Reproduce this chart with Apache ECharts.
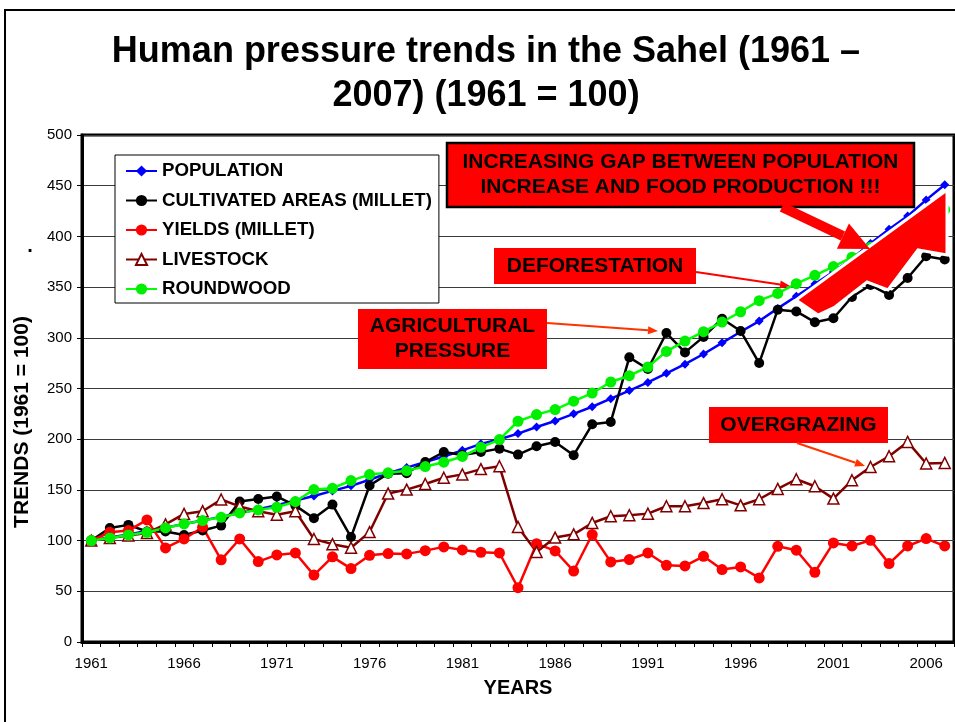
<!DOCTYPE html>
<html>
<head>
<meta charset="utf-8">
<script src="https://cdn.jsdelivr.net/npm/echarts@6/dist/echarts.min.js"></script>
<style>
  html, body { margin: 0; padding: 0; background: #fff; }
  #chart { width: 955px; height: 722px; }
</style>
</head>
<body>
<div id="chart"></div>
<script>
// Index values, 1961 = 100
const years = [];
for (let y = 1961; y <= 2007; y++) years.push(String(y));

const population = [100, 103, 106, 109.5, 112.8, 116.3, 119.8, 123.4, 127.2, 131, 135, 139.5, 144, 149, 154, 160, 166.5, 172, 177.5, 183, 189, 195.4, 200, 205.5, 212, 218, 225, 232, 240, 248, 256, 265, 274, 284, 295, 306, 316.5, 329, 341, 353, 365, 378, 393, 407, 420, 436, 451];
const cultivated = [100, 112.5, 115.5, 109, 109, 105.6, 110, 114.8, 138.5, 141, 143.5, 134.5, 122, 135.5, 103.5, 154.3, 166, 166.5, 177.5, 187.3, 184.5, 187.4, 190.7, 184.8, 193, 197.3, 184.2, 214.7, 217, 280.7, 269.2, 304.7, 285.6, 300.9, 318.8, 306.7, 275.1, 327.7, 326, 315.4, 319.3, 340.2, 352, 342.3, 359, 380.4, 377.2];
const yields = [100, 108.2, 109.9, 120.4, 92.8, 101.6, 113.2, 81, 101.6, 79.3, 85.9, 87.8, 66, 84, 72.4, 85.5, 87.2, 86.9, 90.1, 93.8, 90.8, 88.5, 87.8, 53.6, 97, 89.8, 70, 106, 79, 81.3, 87.8, 75.7, 75, 84.5, 71.4, 74, 63.2, 94.4, 90.5, 68.8, 97.7, 94.7, 100.3, 77.3, 94.7, 102, 94.7];
const livestock = [100, 102.5, 105, 107.5, 116, 126.3, 129, 140.5, 133.7, 129, 125.5, 129, 101.6, 96.5, 93, 108.4, 146.4, 150.3, 155.8, 162, 165.3, 170.5, 173.3, 113.5, 88.8, 103, 106.2, 117.4, 124, 125, 126.6, 133.9, 133.9, 137, 140.8, 134.8, 140.8, 151, 160.5, 153.6, 141.4, 159.5, 172.6, 183.2, 197.3, 176, 176.6];
const roundwood = [100, 102.6, 105.6, 108.2, 112.5, 116.4, 119.7, 123, 127.3, 130.3, 132.9, 138.5, 150.3, 151.6, 159.2, 165.1, 166.8, 169, 173, 177.3, 183, 192, 199.6, 217.7, 224.3, 229.2, 237.5, 245.5, 256.4, 262.6, 271.2, 286.6, 296.8, 306, 315.5, 325.7, 336.6, 343.8, 353.4, 361.6, 370.2, 379.5, 389.2, 398.4, 407, 416, 426.3];

const seriesNames = ['POPULATION', 'CULTIVATED AREAS (MILLET)', 'YIELDS (MILLET)', 'LIVESTOCK', 'ROUNDWOOD'];
const titleText = 'Human pressure trends in the Sahel (1961 –\n2007) (1961 = 100)';

const FONT = "'Liberation Sans', Arial, sans-serif";

// straight arrow: shaft + triangular head
function arrow(x1, y1, x2, y2, color, width, headLen, headHalf) {
  const dx = x2 - x1, dy = y2 - y1;
  const len = Math.sqrt(dx * dx + dy * dy);
  const ux = dx / len, uy = dy / len;
  const bx = x2 - ux * headLen, by = y2 - uy * headLen;
  const px = -uy, py = ux;
  return [
    { type: 'line', z: 100, shape: { x1: x1, y1: y1, x2: bx, y2: by },
      style: { stroke: color, lineWidth: width } },
    { type: 'polygon', z: 100,
      shape: { points: [[x2, y2], [bx + px * headHalf, by + py * headHalf], [bx - px * headHalf, by - py * headHalf]] },
      style: { fill: color } }
  ];
}

function box(x, y, w, h, text, opts) {
  opts = opts || {};
  return [
    { type: 'rect', z: 100, shape: { x: x, y: y, width: w, height: h },
      style: { fill: '#ff0000', stroke: opts.stroke || null, lineWidth: opts.stroke ? 2.5 : 0 } },
    { type: 'text', z: 101, x: x + w / 2, y: y + h / 2,
      style: { text: text, fill: '#000', font: 'bold 21px ' + FONT, align: 'center', verticalAlign: 'middle', lineHeight: 25 } }
  ];
}

const graphics = [].concat(
  [
    // page frame
    { type: 'rect', z: 0, shape: { x: 5, y: 10, width: 980, height: 800 },
      style: { fill: null, stroke: '#000', lineWidth: 2 } },
    { type: 'text', z: 100, x: 486, y: 30,
      style: { text: titleText, font: 'bold 36px ' + FONT, fill: '#000', align: 'center', verticalAlign: 'top', lineHeight: 44 } },
    { type: 'text', z: 100, x: 22, y: 422, rotation: Math.PI / 2,
      style: { text: 'TRENDS (1961 = 100)', font: 'bold 21px ' + FONT, fill: '#000', align: 'center', verticalAlign: 'middle' } },
    { type: 'text', z: 100, x: 30, y: 256,
      style: { text: '.', font: 'bold 20px ' + FONT, fill: '#000', align: 'center', verticalAlign: 'bottom' } },
    // widening gap wedge
    { type: 'polygon', z: 99,
      shape: { points: [[796, 300], [818, 315], [835, 307], [867, 282], [888, 290], [918, 250], [947, 255], [947, 190]] },
      style: { fill: '#ff0000', stroke: '#fff', lineWidth: 3 } }
  ],
  box(447, 143, 467, 64, 'INCREASING GAP BETWEEN POPULATION\nINCREASE AND FOOD PRODUCTION !!!', { stroke: '#000' }),
  box(494, 248, 202, 36, 'DEFORESTATION'),
  box(358, 309, 189, 60, 'AGRICULTURAL\nPRESSURE'),
  box(709, 407, 179, 36, 'OVERGRAZING'),
  arrow(782, 207, 870, 249, '#ff0000', 10, 30, 14),
  arrow(696, 272, 790, 286, '#ff0000', 2, 10, 4),
  arrow(547, 323, 658, 331, '#ff3300', 2, 10, 4),
  arrow(797, 443, 865, 466, '#ff3300', 2, 10, 4)
);

const chart = echarts.init(document.getElementById('chart'), null, { renderer: 'canvas' });

function lineSeries(name, data, color, symbol, size, extra) {
  return Object.assign({
    name: name,
    type: 'line',
    data: data,
    symbol: symbol,
    symbolSize: size,
    showAllSymbol: true,
    lineStyle: { color: color, width: 2.5 },
    itemStyle: { color: color },
    emphasis: { disabled: true },
    animation: false
  }, extra || {});
}

chart.setOption({
  animation: false,
  textStyle: { fontFamily: FONT },
  grid: { left: 82, right: 1, top: 135, bottom: 80, show: true, borderColor: '#000', borderWidth: 3, backgroundColor: 'transparent' },
  legend: {
    orient: 'vertical',
    left: 115, top: 155,
    backgroundColor: '#fff',
    borderColor: '#000', borderWidth: 1,
    padding: [6, 7, 4, 10],
    itemGap: 9.5,
    itemWidth: 31, itemHeight: 14,
    align: 'left',
    textStyle: { fontFamily: FONT, fontWeight: 'bold', fontSize: 18.7, color: '#000', lineHeight: 20 },
    data: seriesNames
  },
  xAxis: {
    type: 'category',
    data: years,
    boundaryGap: true,
    name: 'YEARS',
    nameLocation: 'middle',
    nameGap: 36,
    nameTextStyle: { fontFamily: FONT, fontWeight: 'bold', fontSize: 20, color: '#000' },
    axisLine: { lineStyle: { color: '#000', width: 3 } },
    axisTick: { show: true, interval: 0, length: 5, lineStyle: { color: '#000', width: 1 } },
    axisLabel: { interval: 4, fontFamily: FONT, fontSize: 15, color: '#000', margin: 14 },
    splitLine: { show: false }
  },
  yAxis: {
    type: 'value',
    min: 0, max: 500, interval: 50,
    axisLine: { show: true, lineStyle: { color: '#000', width: 3 } },
    axisTick: { show: true, length: 5, lineStyle: { color: '#000', width: 1 } },
    axisLabel: { fontFamily: FONT, fontSize: 15, color: '#000', margin: 10 },
    splitLine: { show: true, lineStyle: { color: '#3a3a3a', width: 1 } }
  },
  series: [
    lineSeries(seriesNames[0], population, '#0000ff', 'diamond', 9),
    lineSeries(seriesNames[1], cultivated, '#000000', 'circle', 10),
    lineSeries(seriesNames[2], yields, '#ff0000', 'circle', 11),
    lineSeries(seriesNames[3], livestock, '#800000', 'triangle', 11, {
      itemStyle: { color: '#ffffff', borderColor: '#800000', borderWidth: 1.5 }
    }),
    lineSeries(seriesNames[4], roundwood, '#00ff00', 'circle', 11, {
      itemStyle: { color: '#00ee00' }
    })
  ],
  graphic: graphics
});
</script>
</body>
</html>
